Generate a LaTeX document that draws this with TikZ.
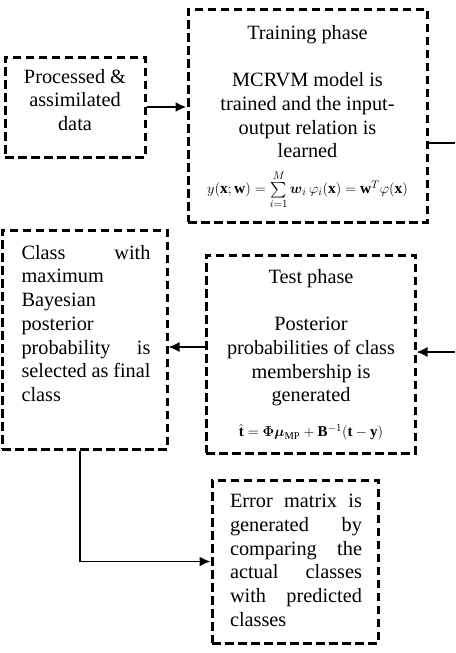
\documentclass[tikz,border=0pt]{standalone}
\usepackage{amsmath}
\usepackage{amssymb}
\usepackage{fontspec}
\setmainfont{Liberation Serif}
\usetikzlibrary{arrows.meta}

\begin{document}
\begin{tikzpicture}[x=1pt,y=-1pt,
    phasebox/.style={draw,line width=3pt,dash pattern=on 8.5pt off 4.5pt,inner sep=0pt},
    boxtext/.style={anchor=north,inner sep=0pt,font=\fontsize{20.3}{23.7}\selectfont},
    flow/.style={line width=1.5pt,-{Latex[length=11pt,width=10pt]}}]
    \useasboundingbox (0,0) rectangle (455,653);
    \node[phasebox,minimum width=140pt,minimum height=100pt] (proc) at (75,107) {};
    \node[phasebox,minimum width=239pt,minimum height=213pt] (train) at (307.5,115.5) {};
    \node[phasebox,minimum width=165pt,minimum height=219pt] (class) at (84.5,339.5) {};
    \node[phasebox,minimum width=209pt,minimum height=198pt] (test) at (310.5,354) {};
    \node[phasebox,minimum width=166pt,minimum height=163pt] (error) at (295,561.5) {};
    \node[boxtext,align=center] (proctext) at (75,69) {Processed \&\\assimilated\\data};
    \node[boxtext,align=center] (traintext) at (307.5,25) {Training phase\\[23.7pt]MCRVM model is\\trained and the input-\\output relation is\\learned\\[12pt]
        {\fontsize{15.5}{18}\selectfont $y(\mathbf{x};\mathbf{w})=\sum\limits_{i=1}^{M}\boldsymbol{w}_i\,\varphi_i(\mathbf{x})=\mathbf{w}^T\varphi(\mathbf{x})$}};
    \node[boxtext,align=center] (testtext) at (311,269) {Test phase\\[23.7pt]Posterior\\probabilities of class\\membership is\\generated\\[11pt]
        {\fontsize{15}{18}\selectfont $\hat{\mathbf{t}}=\boldsymbol{\Phi}\boldsymbol{\mu}_{\mathrm{MP}}+\mathbf{B}^{-1}(\mathbf{t}-\mathbf{y})$}};
    \node[boxtext,text width=129pt,align=justify] (classtext) at (86,245) {Class with\linebreak maximum\linebreak Bayesian\linebreak posterior\linebreak probability is\linebreak selected as final\linebreak class};
    \node[boxtext,text width=132pt,align=justify] (errortext) at (296,494) {Error matrix is\linebreak generated by\linebreak comparing the\linebreak actual classes\linebreak with predicted\linebreak classes};
    \coordinate (trainout) at (455,143);
    \coordinate (testin) at (455,352);
    \draw[flow,line width=2.2pt] (proc.east) -- (proc.east -| train.west);
    \draw[line width=1.2pt] (trainout -| train.east) -- (trainout);
    \draw[flow] (testin) -- (testin -| test.east);
    \draw[flow] ([yshift=7pt]test.west) -- ([yshift=7pt]test.west -| class.east);
    \draw[flow,line width=1.8pt] ([xshift=-4.5pt]class.south) |- (error.west);
\end{tikzpicture}
\end{document}
